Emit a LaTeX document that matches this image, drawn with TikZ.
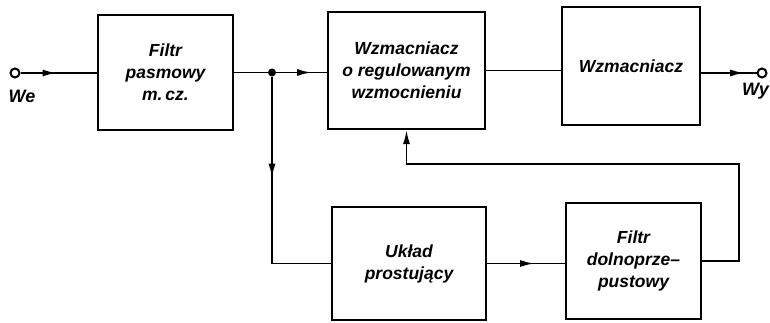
\documentclass[tikz,border=0pt]{standalone}
\usepackage{fontspec}
\setmainfont{Liberation Sans}
\usetikzlibrary{arrows.meta,decorations.markings}
\begin{document}
\begin{tikzpicture}[x=1pt,y=-1pt,
  blk/.style={draw,line width=2.2pt,inner sep=0pt,align=center,
    font=\bfseries\itshape\fontsize{17.5}{22}\selectfont},
  wire/.style={line width=1.7pt},
  tipend/.style={-{Latex[length=14pt,width=7pt]}},
  midtip/.style={postaction={decorate},decoration={markings,
    mark=at position #1 with {\arrow{Latex[length=14pt,width=7pt]}}}},
  term/.style={circle,draw,line width=2pt,fill=white,inner sep=0pt,minimum size=9pt},
  jdot/.style={circle,fill,inner sep=0pt,minimum size=8pt},
  io/.style={font=\bfseries\itshape\fontsize{18}{18}\selectfont,inner sep=0pt}]
\useasboundingbox (0,0) rectangle (770,323);

\node[blk,minimum width=135pt,minimum height=115pt] (b1) at (165.5,72.5) {Filtr\\pasmowy\\m.\,cz.};
\node[blk,minimum width=157pt,minimum height=117pt] (b2) at (406.5,70.5) {Wzmacniacz\\o regulowanym\\wzmocnieniu};
\node[blk,minimum width=138pt,minimum height=118pt] (b3) at (631,66) {Wzmacniacz};
\node[blk,minimum width=154pt,minimum height=113pt] (b4) at (409,263.5) {Układ\\prostujący};
\node[blk,minimum width=135pt,minimum height=116pt] (b5) at (633.5,261) {Filtr\\dolnoprze--\\pustowy};

\node[term] (inp) at (15,73) {};
\node[term] (out) at (762,73) {};
\node[jdot] (j) at (272,72.5) {};
\node[io] (we) at (22,96) {We};
\node[io,anchor=east] (wy) at (769,91) {Wy};
\coordinate (fb) at (739,164);

\draw[wire,midtip=36pt] (inp) -- (inp -| b1.west);
\draw[wire] (b1.east) -- (j);
\draw[wire,midtip=35pt] (j) -- (j -| b2.west);
\draw[wire,midtip=101pt] (j) |- (b4.west);
\draw[wire] (b2.east) -- (b2.east -| b3.west);
\draw[wire,midtip=43pt] (b3.east |- out) -- (out);
\draw[wire,midtip=47pt] (b4.east) -- (b4.east -| b5.west);
\draw[wire,tipend] (b5.east) -| (fb) -| (b2.south);
\end{tikzpicture}
\end{document}
